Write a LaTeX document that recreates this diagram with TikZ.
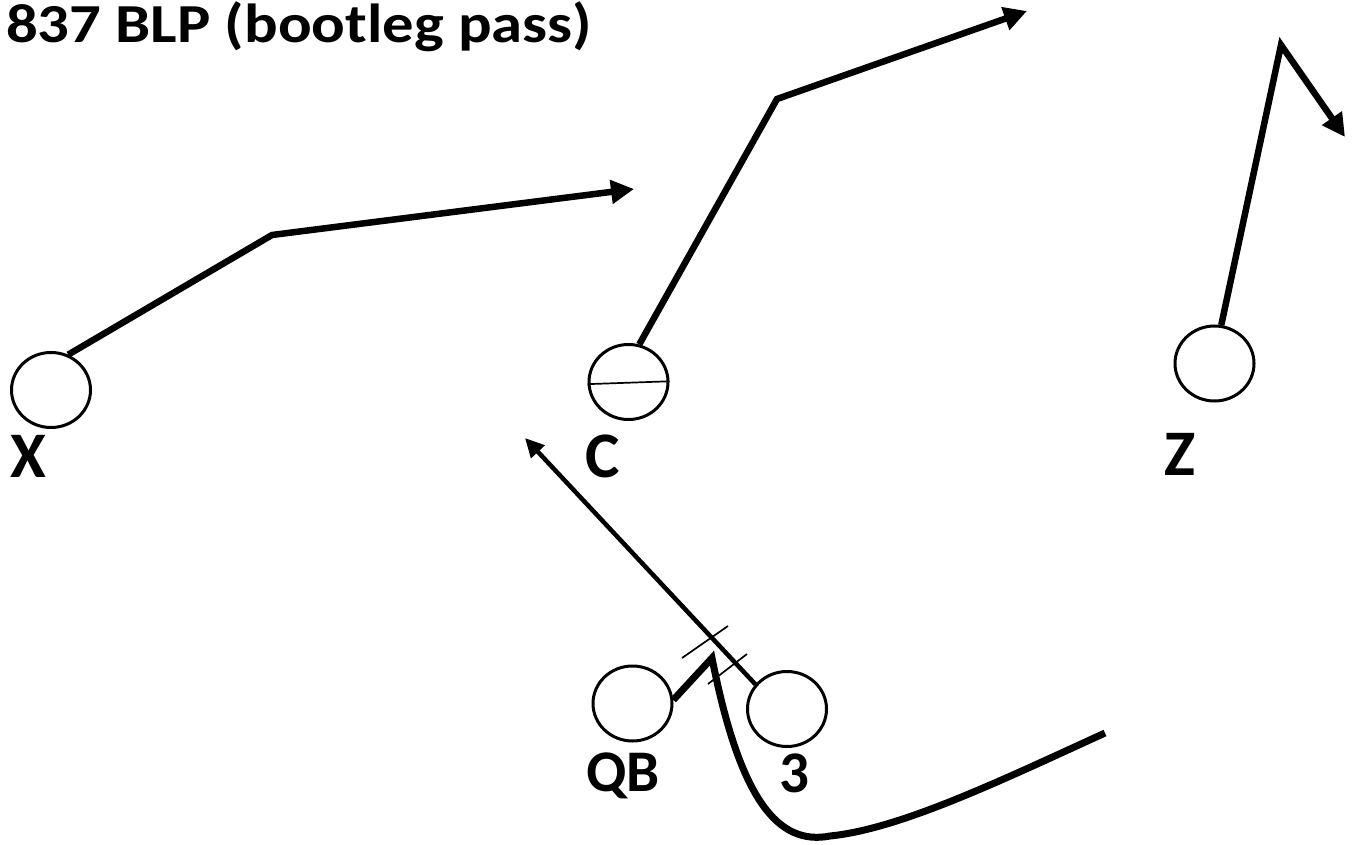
\documentclass[tikz,border=0pt]{standalone}
\usepackage{fontspec}
\setmainfont{Carlito}
\usetikzlibrary{arrows.meta,shapes.geometric}
\begin{document}
\begin{tikzpicture}[x=1pt,y=-1pt,
  player/.style={draw,ellipse,line width=3pt,minimum width=79pt,minimum height=75pt,inner sep=0pt},
  lbl/.style={anchor=base west,inner sep=0pt,font=\bfseries\fontsize{65}{72}\selectfont},
  lbls/.style={anchor=base west,inner sep=0pt,font=\bfseries\fontsize{59}{66}\selectfont},
  route/.style={line width=6.5pt,-{Triangle[length=23pt,width=23pt]}},
  routethin/.style={line width=4.5pt,-{Triangle[length=19pt,width=18pt]}},
  tick/.style={line width=1.7pt}]
\useasboundingbox (0,0) rectangle (1361,845);
% title
\node[anchor=base west,inner sep=0pt,font=\bfseries\fontsize{55}{60}\selectfont] (title) at (6,43) {\scalebox{1.14}[1]{837 BLP (bootleg pass)}};
% players
\node[player] (X) at (51,390) {};
\node[player] (C) at (628.5,382) {};
\node[player] (Z) at (1214.5,363.5) {};
\node[player] (QB) at (632.5,703.5) {};
\node[player] (three) at (787,709) {};
% labels
\node[lbl] (lX) at (10,477) {X};
\node[lbl] (lC) at (585,477) {C};
\node[lbl] (lZ) at (1164,475) {Z};
\node[lbls] (lQB) at (586,791) {QB};
\node[lbls] (l3) at (779,792) {3};
% center line
\draw[line width=1.7pt] (C.183) -- (C.1);
% routes
\coordinate (xk) at (272,235);
\coordinate (xe) at (634,189);
\draw[route] (X.64) -- (xk) -- (xe);
\coordinate (ck) at (777,99);
\coordinate (ce) at (1027,11);
\draw[route] (C.74) -- (ck) -- (ce);
\coordinate (zk) at (1281,45);
\coordinate (ze) at (1345,137);
\draw[route] (Z.80) -- (zk) -- (ze);
\coordinate (te) at (525,438);
\draw[routethin] (three.142) -- (te);
\coordinate (qk) at (712,658);
\coordinate (qb) at (830,836);
\coordinate (qe) at (1105,733);
\draw[line width=7pt] (QB.5) -- (qk) .. controls (740,800) and (778,846) .. (qb) .. controls (900,829) and (1000,781) .. (qe);
% ticks
\coordinate (t1a) at (682,658);
\coordinate (t1b) at (728,626);
\coordinate (t2a) at (708,684);
\coordinate (t2b) at (747,654);
\draw[tick] (t1a) -- (t1b);
\draw[tick] (t2a) -- (t2b);
\end{tikzpicture}
\end{document}
